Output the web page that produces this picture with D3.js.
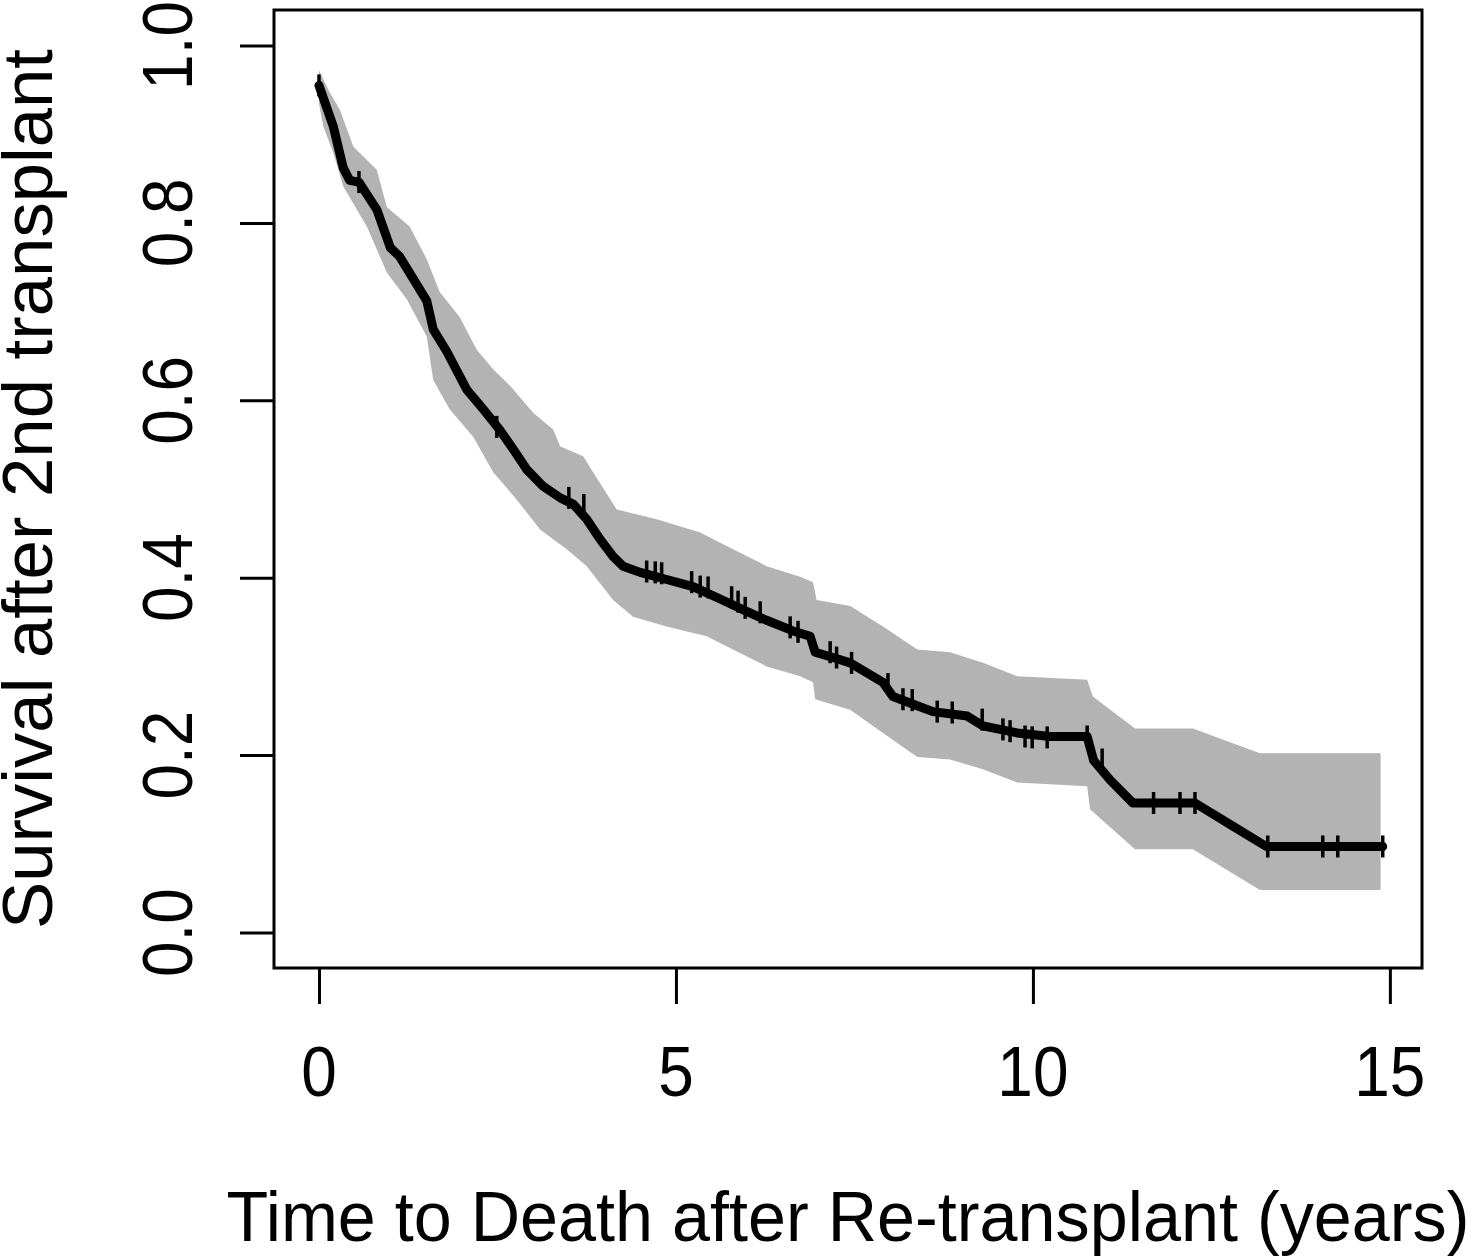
<!DOCTYPE html>
<html>
<head>
<meta charset="utf-8">
<script src="https://cdn.jsdelivr.net/npm/d3@7"></script>
<style>
  body { margin: 0; background: #fff; }
  text { font-family: "Liberation Sans", Arial, sans-serif; fill: #000; }
</style>
</head>
<body>
<script>
// Kaplan-Meier estimate
let survTime = [0.00, 0.20, 0.34, 0.43, 0.56, 0.81, 1.00, 1.13, 1.51, 1.60, 1.79, 2.07, 2.30, 2.53, 2.72, 2.91,
  3.14, 3.38, 3.56, 3.75, 3.94, 4.12, 4.26, 4.50, 4.87, 5.24, 5.62, 5.99, 6.27, 6.64, 6.88, 6.95, 7.20, 7.44,
  7.67, 7.90, 8.04, 8.37, 8.60, 9.08, 9.30, 9.78, 10.24, 10.76, 10.85, 11.08, 11.40, 12.27, 12.80, 13.27, 14.90];
let survValue = [0.955, 0.909, 0.862, 0.848, 0.846, 0.815, 0.772, 0.762, 0.712, 0.680, 0.655, 0.612, 0.590, 0.567, 0.545, 0.522,
  0.503, 0.490, 0.483, 0.466, 0.443, 0.424, 0.413, 0.406, 0.398, 0.390, 0.376, 0.362, 0.352, 0.340, 0.334, 0.316, 0.310, 0.304,
  0.293, 0.282, 0.266, 0.256, 0.249, 0.244, 0.233, 0.225, 0.221, 0.221, 0.194, 0.172, 0.146, 0.146, 0.120, 0.097, 0.097];

// confidence band edges
let upperTime = [0.00, 0.15, 0.29, 0.48, 0.81, 0.95, 1.27, 1.51, 1.69, 1.97, 2.21, 2.44, 2.68, 3.00, 3.28, 3.38, 3.70, 3.84,
  4.17, 4.73, 5.34, 5.80, 6.27, 6.74, 6.92, 6.97, 7.44, 7.90, 8.38, 8.84, 9.30, 9.78, 10.76, 10.84, 11.43, 12.24, 13.18, 14.87];
let upperValue = [0.972, 0.947, 0.928, 0.886, 0.860, 0.818, 0.796, 0.759, 0.722, 0.694, 0.657, 0.635, 0.616, 0.586, 0.567, 0.548, 0.537, 0.519,
  0.477, 0.466, 0.451, 0.432, 0.413, 0.401, 0.395, 0.375, 0.368, 0.345, 0.319, 0.316, 0.304, 0.289, 0.285, 0.266, 0.230, 0.230, 0.202, 0.202];
let lowerTime = [0.00, 0.06, 0.20, 0.34, 0.67, 0.95, 1.23, 1.51, 1.60, 1.83, 2.16, 2.44, 2.77, 3.10, 3.47, 3.75, 4.12, 4.40,
  4.87, 5.43, 5.80, 6.27, 6.74, 6.92, 6.95, 7.44, 7.90, 8.38, 8.84, 9.30, 9.78, 10.76, 10.80, 11.43, 12.24, 13.18, 14.87];
let lowerValue = [0.935, 0.909, 0.879, 0.841, 0.796, 0.744, 0.714, 0.672, 0.623, 0.590, 0.559, 0.519, 0.488, 0.454, 0.432, 0.413, 0.375, 0.356,
  0.345, 0.334, 0.319, 0.300, 0.289, 0.282, 0.263, 0.251, 0.225, 0.198, 0.195, 0.184, 0.169, 0.165, 0.139, 0.094, 0.094, 0.048, 0.048];

// censoring marks
let censorTime = [0.00, 0.56, 2.49, 3.50, 3.71, 4.59, 4.71, 4.80, 5.22, 5.34, 5.45, 5.78, 5.87, 5.97, 6.18, 6.60, 6.71,
  7.16, 7.25, 7.46, 7.97, 8.18, 8.31, 8.66, 8.87, 9.29, 9.58, 9.68, 9.89, 9.99, 10.20, 10.76, 10.97,
  11.69, 12.06, 12.27, 13.29, 14.06, 14.27, 14.90];
let censorValue = [0.955, 0.846, 0.570, 0.490, 0.482, 0.407, 0.406, 0.405, 0.395, 0.390, 0.389, 0.378, 0.373, 0.366, 0.361, 0.344, 0.339,
  0.316, 0.310, 0.304, 0.280, 0.263, 0.262, 0.249, 0.248, 0.240, 0.229, 0.227, 0.221, 0.220, 0.220, 0.221, 0.195,
  0.146, 0.146, 0.146, 0.097, 0.097, 0.097, 0.097];

let xTicks = [0, 5, 10, 15];
let yTicks = [0, 0.2, 0.4, 0.6, 0.8, 1.0];

let width = 1473, height = 1256;
let box = { left: 274, right: 1422, top: 10, bottom: 968 };

let svg = d3.select('body')
  .append('svg')
  .attr('width', width)
  .attr('height', height)
  .style('background', '#fff');

let xScale = d3.scaleLinear()
  .domain([-0.63, 15.45])
  .range([box.left, box.right]);

let yScale = d3.scaleLinear()
  .domain([-0.04, 1.04])
  .range([box.bottom, box.top]);

// band
let bandPts = upperTime.map((t, i) => [t, upperValue[i]])
  .concat(lowerTime.map((t, i) => [t, lowerValue[i]]).reverse());

svg.append('path')
  .attr('d', d3.line().x(d => xScale(d[0])).y(d => yScale(d[1]))(bandPts) + 'Z')
  .attr('fill', '#b3b3b3');

// survival curve
let survPts = survTime.map((t, i) => [t, survValue[i]]);
svg.append('path')
  .attr('d', d3.line().x(d => xScale(d[0])).y(d => yScale(d[1]))(survPts))
  .attr('fill', 'none')
  .attr('stroke', '#000')
  .attr('stroke-width', 9)
  .attr('stroke-linejoin', 'round')
  .attr('stroke-linecap', 'round');

svg.selectAll('line.censor')
  .data(censorTime.map((t, i) => [t, censorValue[i]]))
  .enter()
  .append('line')
  .attr('class', 'censor')
  .attr('x1', d => xScale(d[0]))
  .attr('x2', d => xScale(d[0]))
  .attr('y1', d => yScale(d[1]) - 11)
  .attr('y2', d => yScale(d[1]) + 11)
  .attr('stroke', '#000')
  .attr('stroke-width', 3.5);

// axes
let yAxis = svg.append('g')
  .attr('transform', `translate(${box.left},0)`)
  .call(d3.axisLeft(yScale).tickValues(yTicks).tickSize(34).tickFormat(''));
let xAxis = svg.append('g')
  .attr('transform', `translate(0,${box.bottom})`)
  .call(d3.axisBottom(xScale).tickValues(xTicks).tickSize(36).tickFormat(''));
[yAxis, xAxis].forEach(g => {
  g.select('.domain').remove();
  g.selectAll('line').attr('stroke', '#000').attr('stroke-width', 3);
});

// box
svg.append('rect')
  .attr('x', box.left)
  .attr('y', box.top)
  .attr('width', box.right - box.left)
  .attr('height', box.bottom - box.top)
  .attr('fill', 'none')
  .attr('stroke', '#000')
  .attr('stroke-width', 3);

let fontSize = 71;
let squeeze = sel => sel.each(function () {
  let w = this.getComputedTextLength();
  d3.select(this).attr('textLength', w * 0.9).attr('lengthAdjust', 'spacingAndGlyphs');
});

// tick labels
svg.selectAll('text.ylab')
  .data(yTicks)
  .enter()
  .append('text')
  .attr('class', 'ylab')
  .attr('transform', d => `translate(192,${yScale(d)}) rotate(-90)`)
  .attr('text-anchor', 'middle')
  .style('font-size', fontSize + 'px')
  .text(d => d3.format('.1f')(d))
  .call(squeeze);

svg.selectAll('text.xlab')
  .data(xTicks)
  .enter()
  .append('text')
  .attr('class', 'xlab')
  .attr('x', d => xScale(d))
  .attr('y', 1096)
  .attr('text-anchor', 'middle')
  .style('font-size', fontSize + 'px')
  .text(d => d)
  .call(squeeze);

// axis titles
svg.append('text')
  .attr('x', (box.left + box.right) / 2)
  .attr('y', 1241)
  .attr('text-anchor', 'middle')
  .style('font-size', fontSize + 'px')
  .attr('textLength', 1243)
  .attr('lengthAdjust', 'spacingAndGlyphs')
  .text('Time to Death after Re-transplant (years)');

svg.append('text')
  .attr('transform', `translate(52,${(box.top + box.bottom) / 2}) rotate(-90)`)
  .attr('text-anchor', 'middle')
  .style('font-size', fontSize + 'px')
  .attr('textLength', 880)
  .attr('lengthAdjust', 'spacingAndGlyphs')
  .text('Survival after 2nd transplant');
</script>
</body>
</html>
